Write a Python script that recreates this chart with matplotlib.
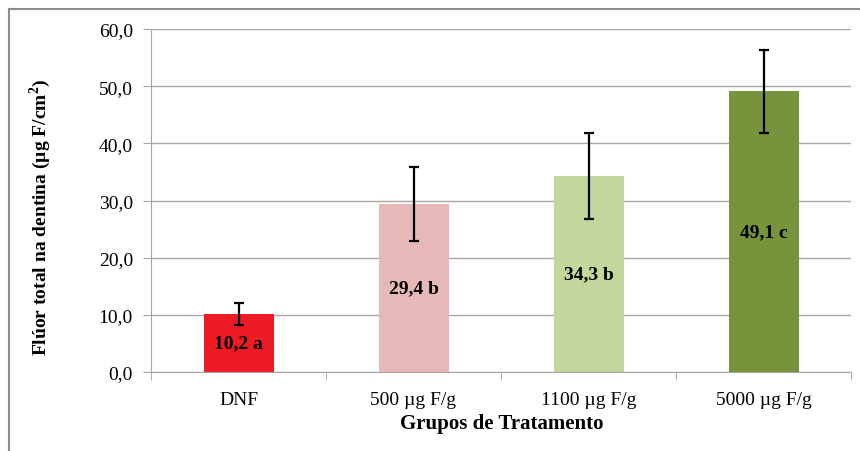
import numpy as np
import matplotlib.pyplot as plt
from matplotlib.lines import Line2D

plt.rcParams['font.family'] = ['Liberation Serif', 'DejaVu Serif']

grupos = ['DNF', '500 µg F/g', '1100 µg F/g', '5000 µg F/g']
medias = [10.2, 29.4, 34.3, 49.1]
desvios = [1.9, 6.4, 7.5, 7.3]
letras = ['a', 'b', 'b', 'c']
cores = ['#ED1C24', '#E6B9B8', '#C3D69B', '#77933C']

fig = plt.figure(figsize=(8.6, 4.52), dpi=100)
ax = fig.add_axes([151/860, 1 - 373/452, 700/860, 343/452])

x = np.arange(len(grupos))
ax.bar(x, medias, width=0.4, color=cores, zorder=2)
ax.errorbar(x, medias, yerr=desvios, fmt='none', ecolor='black',
            elinewidth=1.6, capsize=3.5, capthick=1.6, zorder=3)

for xi, m, l in zip(x, medias, letras):
    txt = f'{m:.1f}'.replace('.', ',') + ' ' + l
    ax.text(xi, m / 2, txt, ha='center', va='center', fontsize=14,
            fontweight='bold', color='black', zorder=4)

ax.set_xlim(-0.5, 3.5)
ax.set_ylim(0, 60)
ax.set_yticks(np.arange(0, 61, 10))
ax.set_yticklabels([f'{v:.1f}'.replace('.', ',') for v in np.arange(0, 61, 10)],
                   fontsize=14)
ax.yaxis.grid(True, color='#A6A6A6', linewidth=1, zorder=0)
ax.set_axisbelow(True)

ax.set_xticks(x)
ax.set_xticklabels(grupos, fontsize=14)
ax.tick_params(axis='x', length=0, pad=14)
ax.set_xticks(np.arange(-0.5, 4, 1), minor=True)
ax.tick_params(axis='x', which='minor', length=6, color='#A6A6A6')
ax.tick_params(axis='y', length=6, color='#A6A6A6', pad=7)

for s in ['top', 'right']:
    ax.spines[s].set_visible(False)
ax.spines['left'].set_color('#A6A6A6')
ax.spines['bottom'].set_color('#A6A6A6')

fig.text(502/860, 1 - 424/452, 'Grupos de Tratamento', ha='center', va='center',
         fontsize=15, fontweight='bold')
fig.text(40/860, 1 - 217/452, 'Flúor total na dentina (µg F/cm$^\\mathregular{2}$)',
         rotation=90, ha='center', va='center', fontsize=14, fontweight='bold')

# moldura externa
fig.add_artist(Line2D([9/860, 9/860], [0, 1 - 10/452], color='#8C8C8C',
                      linewidth=1.5, transform=fig.transFigure))
fig.add_artist(Line2D([9/860, 1], [1 - 10/452, 1 - 10/452], color='#8C8C8C',
                      linewidth=1.5, transform=fig.transFigure))

fig.savefig('out.png', dpi=100)
